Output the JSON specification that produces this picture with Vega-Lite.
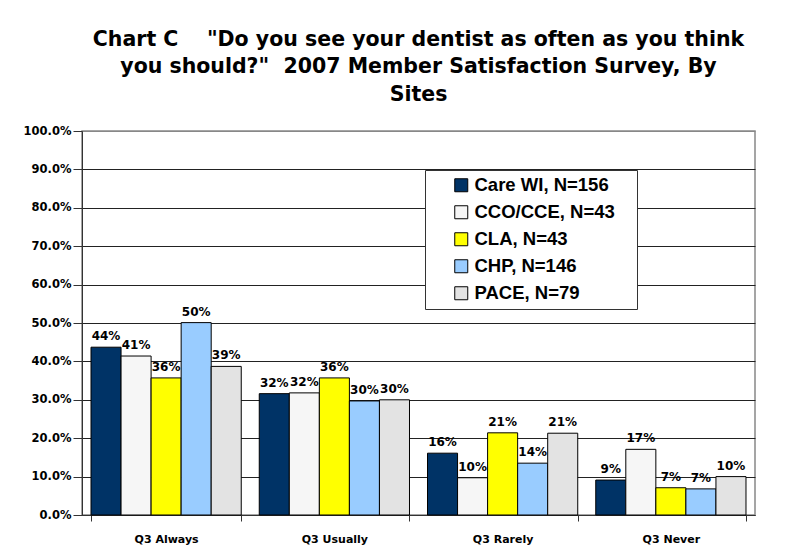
{
  "$schema": "https://vega.github.io/schema/vega-lite/v6.json",
  "autosize": {"type": "none"},
  "width": 673,
  "height": 384,
  "padding": {"left": 82, "top": 131, "right": 57, "bottom": 43},
  "background": "white",
  "title": {
    "text": ["Chart C\u00a0\u00a0\u00a0\u00a0\"Do you see your dentist as often as you think", "you should?\"\u00a0\u00a02007 Member Satisfaction Survey, By", "Sites"],
    "fontSize": 20.5,
    "font": "DejaVu Sans",
    "fontWeight": "bold",
    "anchor": "middle",
    "lineHeight": 27.5,
    "offset": 20,
    "color": "black"
  },
  "data": {
    "values": [
      {"answer": "Q3 Always", "site": "Care WI, N=156", "pct": 0.437},
      {"answer": "Q3 Always", "site": "CCO/CCE, N=43", "pct": 0.414},
      {"answer": "Q3 Always", "site": "CLA, N=43", "pct": 0.357},
      {"answer": "Q3 Always", "site": "CHP, N=146", "pct": 0.501},
      {"answer": "Q3 Always", "site": "PACE, N=79", "pct": 0.387},
      {"answer": "Q3 Usually", "site": "Care WI, N=156", "pct": 0.316},
      {"answer": "Q3 Usually", "site": "CCO/CCE, N=43", "pct": 0.318},
      {"answer": "Q3 Usually", "site": "CLA, N=43", "pct": 0.357},
      {"answer": "Q3 Usually", "site": "CHP, N=146", "pct": 0.297},
      {"answer": "Q3 Usually", "site": "PACE, N=79", "pct": 0.300},
      {"answer": "Q3 Rarely", "site": "Care WI, N=156", "pct": 0.161},
      {"answer": "Q3 Rarely", "site": "CCO/CCE, N=43", "pct": 0.097},
      {"answer": "Q3 Rarely", "site": "CLA, N=43", "pct": 0.214},
      {"answer": "Q3 Rarely", "site": "CHP, N=146", "pct": 0.135},
      {"answer": "Q3 Rarely", "site": "PACE, N=79", "pct": 0.213},
      {"answer": "Q3 Never", "site": "Care WI, N=156", "pct": 0.091},
      {"answer": "Q3 Never", "site": "CCO/CCE, N=43", "pct": 0.171},
      {"answer": "Q3 Never", "site": "CLA, N=43", "pct": 0.071},
      {"answer": "Q3 Never", "site": "CHP, N=146", "pct": 0.068},
      {"answer": "Q3 Never", "site": "PACE, N=79", "pct": 0.100}
    ]
  },
  "encoding": {
    "x": {
      "field": "answer",
      "type": "nominal",
      "sort": ["Q3 Always", "Q3 Usually", "Q3 Rarely", "Q3 Never"],
      "scale": {"paddingInner": 0.107, "paddingOuter": 0.0535},
      "axis": {
        "title": null,
        "labelAngle": 0,
        "tickBand": "extent",
        "labelFont": "DejaVu Sans",
        "labelFontSize": 11,
        "labelFontWeight": "bold",
        "labelColor": "black",
        "labelPadding": 12,
        "tickSize": 6,
        "tickColor": "#333",
        "domainColor": "#333",
        "grid": false
      }
    },
    "xOffset": {
      "field": "site",
      "type": "nominal",
      "sort": ["Care WI, N=156", "CCO/CCE, N=43", "CLA, N=43", "CHP, N=146", "PACE, N=79"],
      "scale": {"paddingInner": 0, "paddingOuter": 0}
    },
    "y": {
      "field": "pct",
      "type": "quantitative",
      "scale": {"domain": [0, 1], "nice": false},
      "axis": {
        "title": null,
        "format": ".1%",
        "values": [0, 0.1, 0.2, 0.3, 0.4, 0.5, 0.6, 0.7, 0.8, 0.9, 1],
        "labelFont": "DejaVu Sans",
        "labelFontSize": 11.5,
        "labelFontWeight": "bold",
        "labelColor": "black",
        "labelPadding": 2,
        "tickSize": 9,
        "tickColor": "#333",
        "domainColor": "#333",
        "grid": true,
        "gridColor": {"condition": {"test": "datum.value === 1", "value": "#888"}, "value": "#222"},
        "gridWidth": 1
      }
    }
  },
  "layer": [
    {
      "mark": {"type": "bar", "stroke": "black", "strokeWidth": 1},
      "encoding": {
        "color": {
          "field": "site",
          "type": "nominal",
          "sort": ["Care WI, N=156", "CCO/CCE, N=43", "CLA, N=43", "CHP, N=146", "PACE, N=79"],
          "scale": {
            "domain": ["Care WI, N=156", "CCO/CCE, N=43", "CLA, N=43", "CHP, N=146", "PACE, N=79"],
            "range": ["#003366", "#f6f6f6", "#ffff00", "#99ccff", "#e3e3e3"]
          },
          "legend": {
            "title": "\u00a0",
            "titleOrient": "right",
            "titlePadding": 16,
            "titleFontSize": 18,
            "orient": "none",
            "legendX": 343,
            "legendY": 39,
            "direction": "vertical",
            "fillColor": "white",
            "strokeColor": "#333",
            "padding": 6,
            "symbolOffset": 21,
            "symbolType": "square",
            "symbolSize": 169,
            "symbolStrokeColor": "black",
            "symbolStrokeWidth": 1,
            "symbolOpacity": 1,
            "labelFont": "Liberation Sans",
            "labelFontSize": 18.5,
            "labelFontWeight": "bold",
            "labelColor": "black",
            "labelOffset": 4,
            "labelLimit": 300,
            "rowPadding": 8
          }
        }
      }
    },
    {
      "mark": {"type": "text", "dy": -4, "font": "DejaVu Sans", "fontSize": 12, "fontWeight": "bold", "color": "black", "baseline": "bottom", "align": "center"},
      "encoding": {
        "text": {"field": "pct", "type": "quantitative", "format": ".0%"}
      }
    }
  ],
  "config": {
    "font": "Liberation Sans",
    "view": {"stroke": "#888", "strokeWidth": 1.5}
  }
}
